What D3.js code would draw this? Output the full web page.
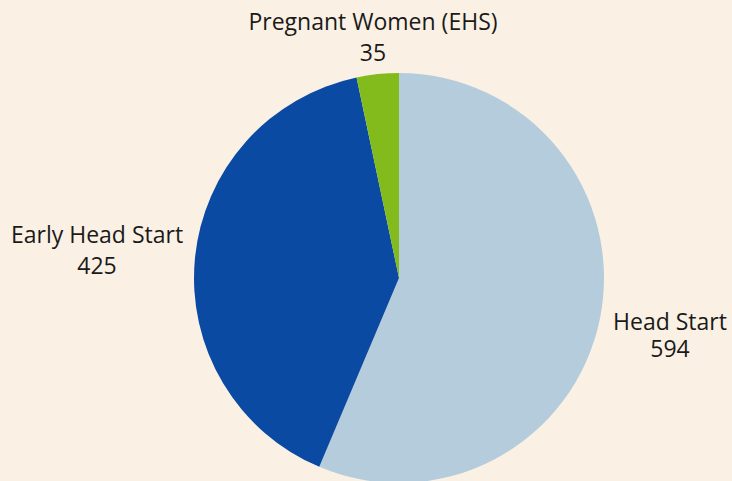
<!DOCTYPE html>
<html>
<head>
<meta charset="utf-8">
<script src="https://cdn.jsdelivr.net/npm/d3@7"></script>
<style>
  body { margin: 0; background: #faf1e4; }
  svg { display: block; }
  text { font-family: "Open Sans", sans-serif; font-size: 23px; fill: #1a1a1a; }
</style>
</head>
<body>
<div class="content"></div>
<script>
// data
var categories = ['Head Start', 'Early Head Start', 'Pregnant Women (EHS)'];
var values = [594, 425, 35];
var colors = ['#b5ccdc', '#0a4aa3', '#84bb1c'];

// label anchors (x, baseline y) for each slice
var labelPos = [[670, 330], [97, 243], [373, 30]];

var width = 732, height = 481;
var cx = 399, cy = 278, radius = 205;

var svg = d3.select('.content').append('svg')
  .attr('width', width)
  .attr('height', height);

svg.append('rect')
  .attr('width', width)
  .attr('height', height)
  .style('fill', '#faf1e4');

var pie = d3.pie().sort(null).value(function(d) { return d; });
var arc = d3.arc().innerRadius(0).outerRadius(radius);

var g = svg.append('g')
  .attr('transform', 'translate(' + cx + ',' + cy + ')');

g.selectAll('path')
  .data(pie(values))
  .enter().append('path')
  .attr('d', arc)
  .style('fill', function(d, i) { return colors[i]; });

// labels
var labels = svg.selectAll('.lbl')
  .data(categories)
  .enter().append('text')
  .attr('class', 'lbl')
  .attr('text-anchor', 'middle')
  .attr('x', function(d, i) { return labelPos[i][0]; })
  .attr('y', function(d, i) { return labelPos[i][1]; });

labels.append('tspan')
  .attr('x', function(d, i) { return labelPos[i][0]; })
  .text(function(d) { return d; });
labels.append('tspan')
  .attr('x', function(d, i) { return labelPos[i][0]; })
  .attr('dy', function(d, i) { return i == 0 ? 27 : 31; })
  .text(function(d, i) { return values[i]; });
</script>
</body>
</html>
